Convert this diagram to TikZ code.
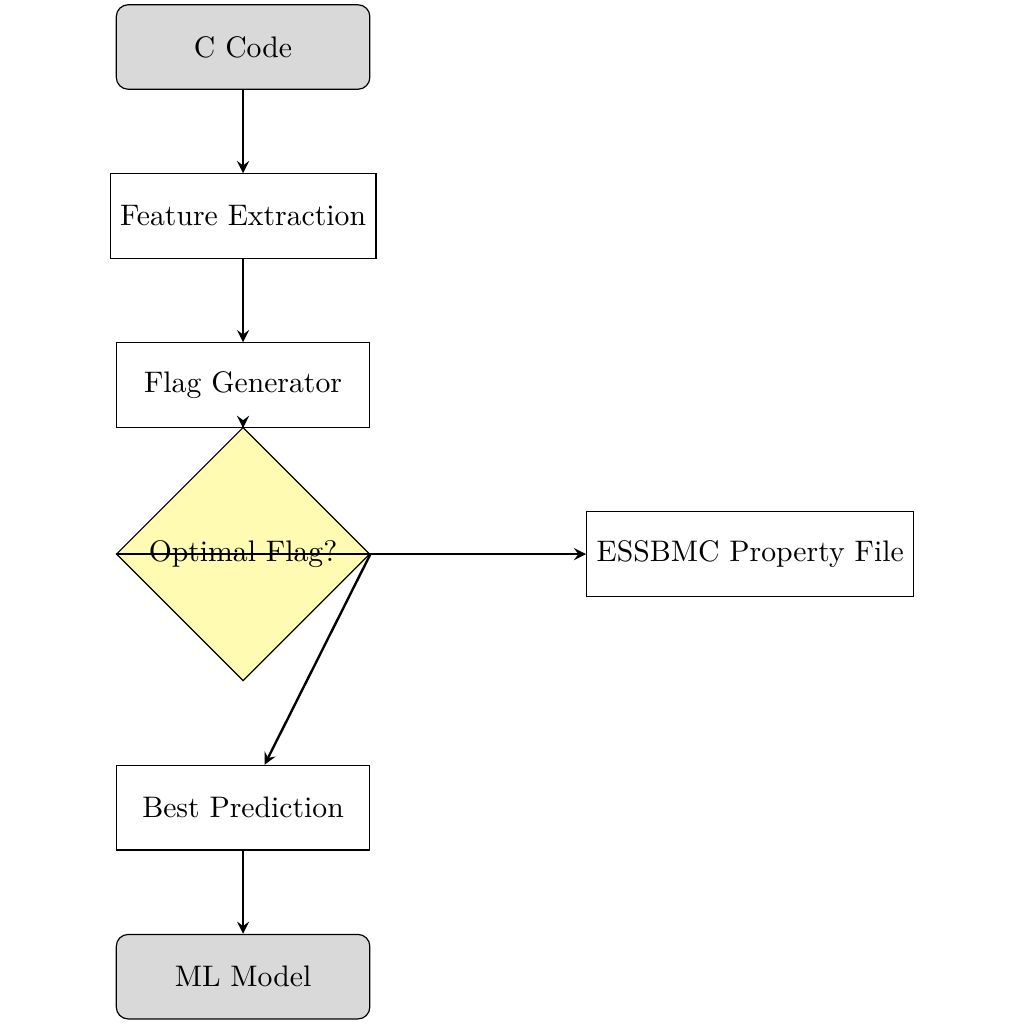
\documentclass[tikz,border=0pt]{standalone}
\usetikzlibrary{shapes.geometric,arrows}
\begin{document}
\begin{tikzpicture}[
  termbox/.style={rectangle, rounded corners, draw, fill=gray!30, minimum width=3cm, minimum height=1cm, align=center},
  procbox/.style={rectangle, draw, minimum width=3cm, minimum height=1cm, align=center},
  decbox/.style={diamond, draw, fill=yellow!30, minimum width=3cm, minimum height=3cm, inner sep=0pt, aspect=1},
  conn/.style={thick, ->, >=stealth}
]
\useasboundingbox (-2.876,0.556) rectangle (9.24,-11.56);
\node[termbox] (code) at (0,0) {C Code};
\node[procbox] (feat) at (0,-2) {Feature Extraction};
\node[procbox] (flag) at (0,-4) {Flag Generator};
\node[decbox] (dec) at (0,-6) {Optimal Flag?};
\node[procbox] (prop) at (6,-6) {ESSBMC Property File};
\node[procbox] (best) at (0,-9) {Best Prediction};
\node[termbox] (ml) at (0,-11) {ML Model};
\draw[conn] (code) -- (feat);
\draw[conn] (feat) -- (flag);
\draw[conn] (dec) -- (flag);
\draw[conn] (dec.west) -- (prop);
\draw[conn] (dec.east) -- (best);
\draw[conn] (best) -- (ml);
\end{tikzpicture}
\end{document}
